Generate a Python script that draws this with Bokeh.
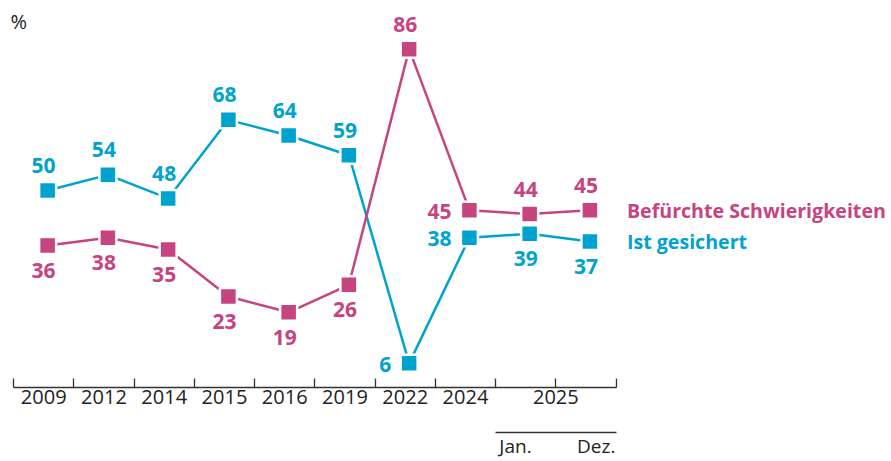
from bokeh.plotting import figure
from bokeh.models import (ColumnDataSource, FixedTicker, LinearAxis, Range1d, Label)
from bokeh.transform import dodge
from bokeh.core.properties import value
from bokeh.embed import file_html
from bokeh.resources import INLINE

# ---- data ----
periods = ["2009", "2012", "2014", "2015", "2016", "2019", "2022", "2024", "2025 Jan.", "2025 Dez."]
year_labels = ["2009", "2012", "2014", "2015", "2016", "2019", "2022", "2024", "2025"]
sub_labels = ["Jan.", "Dez."]
ist_gesichert = [50, 54, 48, 68, 64, 59, 6, 38, 39, 37]
befuerchte = [36, 38, 35, 23, 19, 26, 86, 45, 44, 45]
series_names = ["Befürchte Schwierigkeiten", "Ist gesichert"]

# label placement per point (style, not data)
ist_pos = ["above"] * 6 + ["left", "left", "below", "below"]
bef_pos = ["below"] * 6 + ["above", "left", "above", "above"]

BLUE = "#00A3D0"
MAGENTA = "#C6447F"
TXT = "#222222"
FONT = "Open Sans"

xs = list(range(len(periods)))

p = figure(width=891, height=461, output_backend="svg", toolbar_location=None,
           x_range=Range1d(-0.717, 14.07), y_range=Range1d(-0.15, 98.39),
           min_border_left=0, min_border_right=0, min_border_top=0, min_border_bottom=0)
p.outline_line_color = None
p.grid.visible = False
p.yaxis.visible = False
p.background_fill_color = "white"
p.border_fill_color = "white"


def offsets(pos):
    xo, yo, al = [], [], []
    for s in pos:
        if s == "above":
            xo.append(-4); yo.append(-25); al.append("center")
        elif s == "below":
            xo.append(-4); yo.append(25); al.append("center")
        else:
            xo.append(-18); yo.append(1); al.append("right")
    return xo, yo, al


for vals, pos, col in [(ist_gesichert, ist_pos, BLUE), (befuerchte, bef_pos, MAGENTA)]:
    xo, yo, al = offsets(pos)
    src = ColumnDataSource(dict(x=xs, y=vals, lab=[str(v) for v in vals], xo=xo, yo=yo, al=al))
    p.line(x=dodge("x", 0.065), y="y", source=src, line_color=col, line_width=2.5)
    p.scatter(x=dodge("x", 0.065), y="y", source=src, marker="square", size=17,
              fill_color=col, line_color="white", line_width=2.5)
    p.text(x=dodge("x", 0.065), y="y", text="lab", source=src, x_offset="xo", y_offset="yo",
           text_align="al", text_baseline="middle", text_color=col,
           text_font=value(FONT), text_font_size="21px", text_font_style="bold")

# series labels at the right end of the lines
last = len(periods) - 1
leg = ColumnDataSource(dict(x=[last, last], y=[befuerchte[last], ist_gesichert[last]],
                            t=series_names, c=[MAGENTA, BLUE]))
p.text(x=dodge("x", 0.065), y="y", text="t", source=leg, x_offset=37, y_offset=0,
       text_align="left", text_baseline="middle", text_color="c",
       text_font=value(FONT), text_font_size="19.6px", text_font_style="bold")

p.add_layout(Label(x=-0.551, y=96.36, text="%", text_baseline="top", text_align="left",
                   text_color=TXT, text_font=FONT, text_font_size="20px"))

# x axis (categories with boundary ticks)
centers = list(range(len(year_labels) - 1)) + [8.5]
bounds = [i - 0.5 for i in range(len(periods) + 1)]
ax = p.xaxis[0]
ax.ticker = FixedTicker(ticks=centers, minor_ticks=bounds)
ax.major_label_overrides = {c: l for c, l in zip(centers, year_labels)}
ax.bounds = (-0.5, len(periods) - 0.5)
ax.axis_line_color = "#333333"
ax.axis_line_width = 1.3
ax.major_tick_line_color = None
ax.minor_tick_line_color = "#333333"
ax.minor_tick_line_width = 1.3
ax.minor_tick_in = 9
ax.minor_tick_out = 0
ax.major_label_standoff = -4
ax.major_label_text_font = FONT
ax.major_label_text_font_size = "20px"
ax.major_label_text_color = TXT
ax.axis_label = " "
ax.axis_label_text_font_size = "12px"
ax.axis_label_standoff = 9

ax2 = LinearAxis(ticker=FixedTicker(ticks=[7.83, 9.17], minor_ticks=[]),
                 major_label_overrides={7.83: sub_labels[0], 9.17: sub_labels[1]},
                 bounds=(7.5, 9.5))
ax2.axis_line_color = "#333333"
ax2.axis_line_width = 1.3
ax2.major_tick_line_color = None
ax2.minor_tick_line_color = None
ax2.major_label_standoff = -6
ax2.major_label_text_font = FONT
ax2.major_label_text_font_size = "19px"
ax2.major_label_text_color = TXT
p.add_layout(ax2, "below")

open("out.html", "w").write(file_html(p, INLINE))
